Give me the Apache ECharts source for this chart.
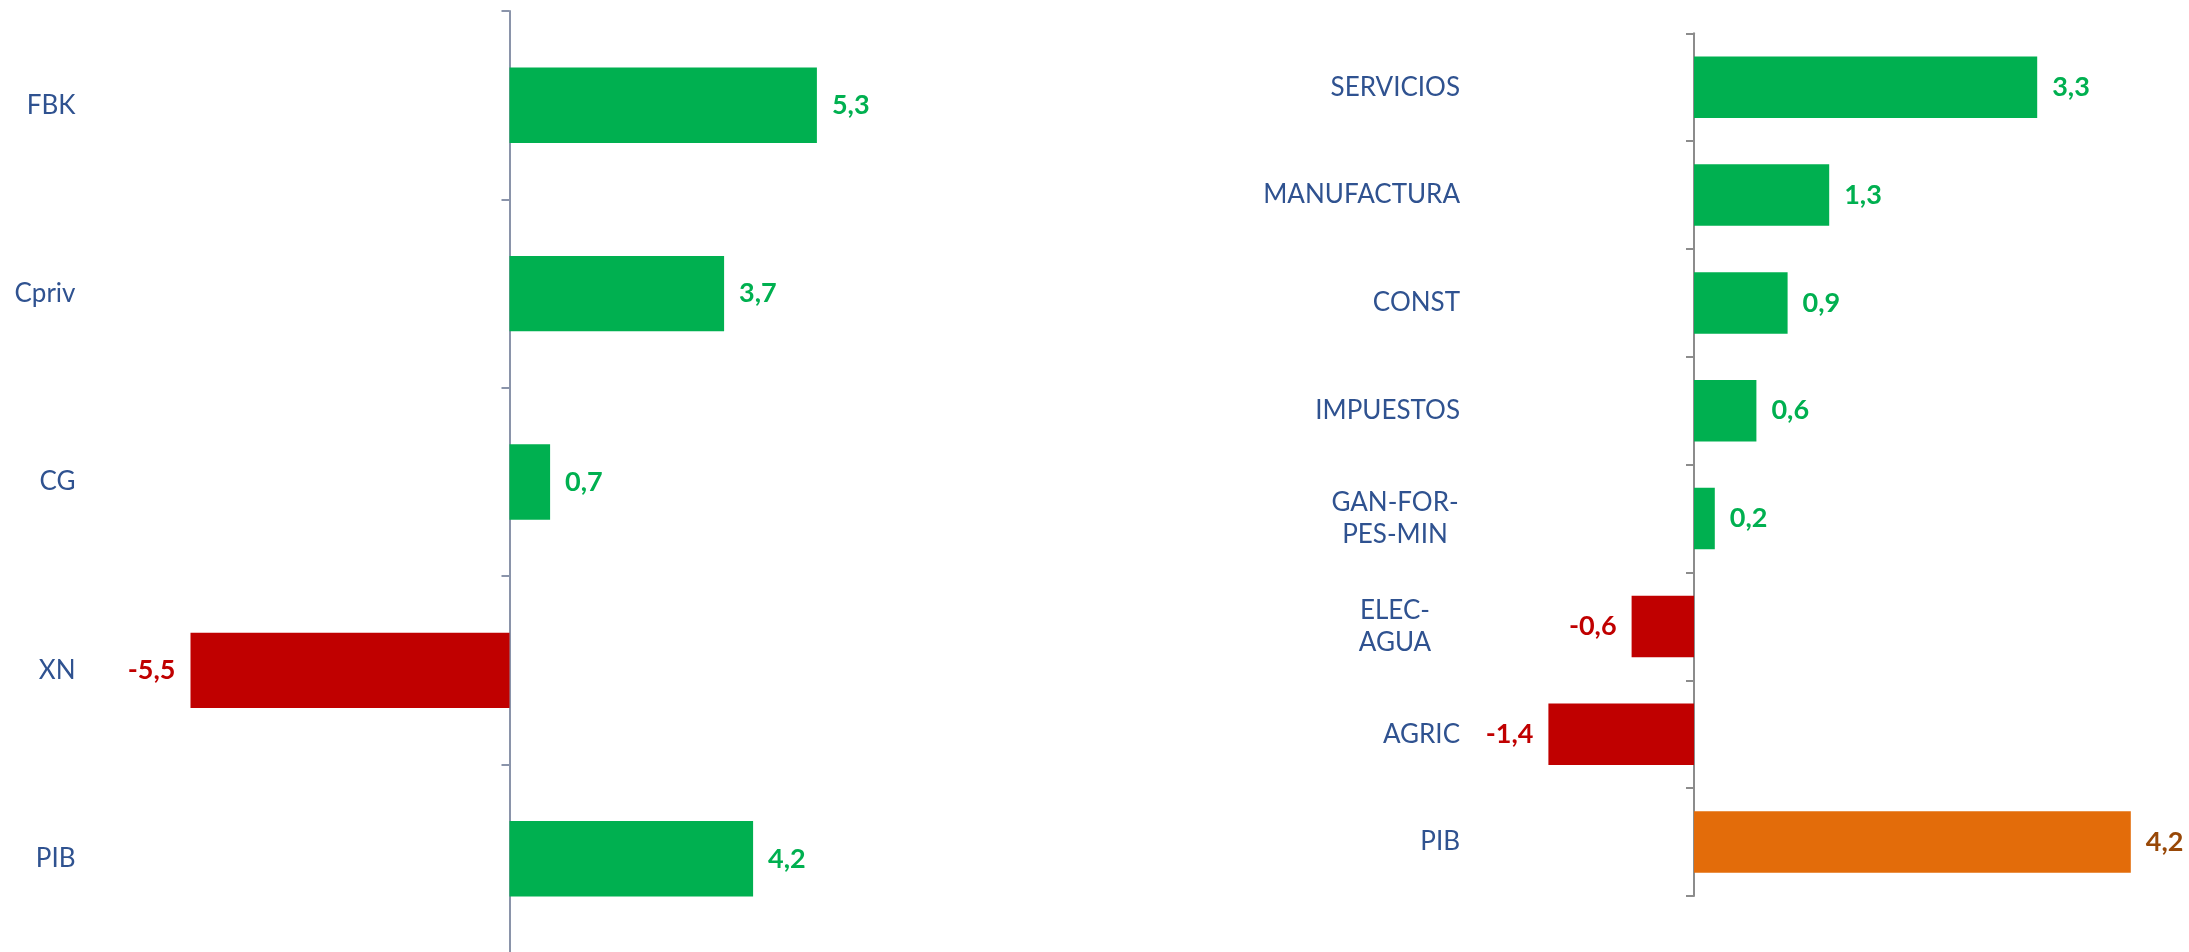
<!DOCTYPE html>
<html><head><meta charset="utf-8">
<script src="https://cdn.jsdelivr.net/npm/echarts@6/dist/echarts.min.js"></script>
<style>html,body{margin:0;padding:0;background:#fff}#c{width:2189px;height:952px}</style>
</head><body><div id="c"></div>
<script>
// ---- data ----
const leftCategories = ['FBK', 'Cpriv', 'CG', 'XN', 'PIB'];
const leftValues = [5.3, 3.7, 0.7, -5.5, 4.2];
const rightCategories = ['SERVICIOS', 'MANUFACTURA', 'CONST', 'IMPUESTOS', 'GAN-FOR-\nPES-MIN', 'ELEC-\nAGUA', 'AGRIC', 'PIB'];
const rightValues = [3.3, 1.3, 0.9, 0.6, 0.2, -0.6, -1.4, 4.2];

// ---- styles ----
const GREEN = '#00b050', RED = '#c00000', ORANGE = '#e36c0a', ORANGE_TXT = '#984807';
const CAT_COLOR = '#2f5290';
const FONT = 'Lato, "Liberation Sans", sans-serif';
function fmt(v) { return v.toFixed(1).replace('.', ','); }
function items(vals, cats, highlight) {
  return vals.map(function (v, i) {
    const hl = highlight && cats[i] === highlight;
    const c = hl ? ORANGE : (v >= 0 ? GREEN : RED);
    const tc = hl ? ORANGE_TXT : c;
    return { value: v, itemStyle: { color: c }, label: { color: tc, position: v >= 0 ? 'right' : 'left' } };
  });
}

const chart = echarts.init(document.getElementById('c'), null, { renderer: 'canvas' });
const option = {
  animation: false,
  backgroundColor: '#ffffff',
  grid: [
    { left: 161.5, width: 696, top: 11, height: 942, containLabel: false, outerBoundsMode: 'none' },
    { left: 1486, width: 676, top: 33.3, height: 862.7, containLabel: false, outerBoundsMode: 'none' }
  ],
  xAxis: [
    { type: 'value', gridIndex: 0, min: -6, max: 6, show: false },
    { type: 'value', gridIndex: 1, min: -2, max: 4.5, show: false }
  ],
  yAxis: [
    {
      type: 'category', gridIndex: 0, inverse: true, data: leftCategories,
      axisLine: { onZero: true, lineStyle: { color: '#8a94aa', width: 2 } },
      axisTick: { show: true, length: 8, lineStyle: { color: '#8a94aa', width: 2 } },
      axisLabel: { interval: 0, margin: 86, color: CAT_COLOR, fontSize: 26, fontFamily: FONT }
    },
    {
      type: 'category', gridIndex: 1, inverse: true, data: rightCategories,
      axisLine: { onZero: true, lineStyle: { color: '#8c8c8c', width: 2 } },
      axisTick: { show: true, length: 8, lineStyle: { color: '#8c8c8c', width: 2 } },
      axisLabel: {
        interval: 0, margin: 26, color: CAT_COLOR, fontSize: 26, fontFamily: FONT, lineHeight: 32,
        formatter: function (v) {
          return v.indexOf('\n') >= 0 ? v.split('\n').map(function (s) { return '{c|' + s + '}'; }).join('\n') : v;
        },
        rich: { c: { width: 130, align: 'center', fontSize: 26, fontFamily: FONT, color: CAT_COLOR, lineHeight: 32 } }
      }
    }
  ],
  series: [
    {
      type: 'bar', xAxisIndex: 0, yAxisIndex: 0, barWidth: '40%',
      data: items(leftValues, leftCategories, null),
      label: { show: true, distance: 15, fontSize: 27, fontWeight: 'bold', fontFamily: FONT,
        formatter: function (p) { return fmt(p.value); } }
    },
    {
      type: 'bar', xAxisIndex: 1, yAxisIndex: 1, barWidth: '57%',
      data: items(rightValues, rightCategories, 'PIB'),
      label: { show: true, distance: 15, fontSize: 27, fontWeight: 'bold', fontFamily: FONT,
        formatter: function (p) { return fmt(p.value); } }
    }
  ]
};
chart.setOption(option);
</script>
</body></html>
